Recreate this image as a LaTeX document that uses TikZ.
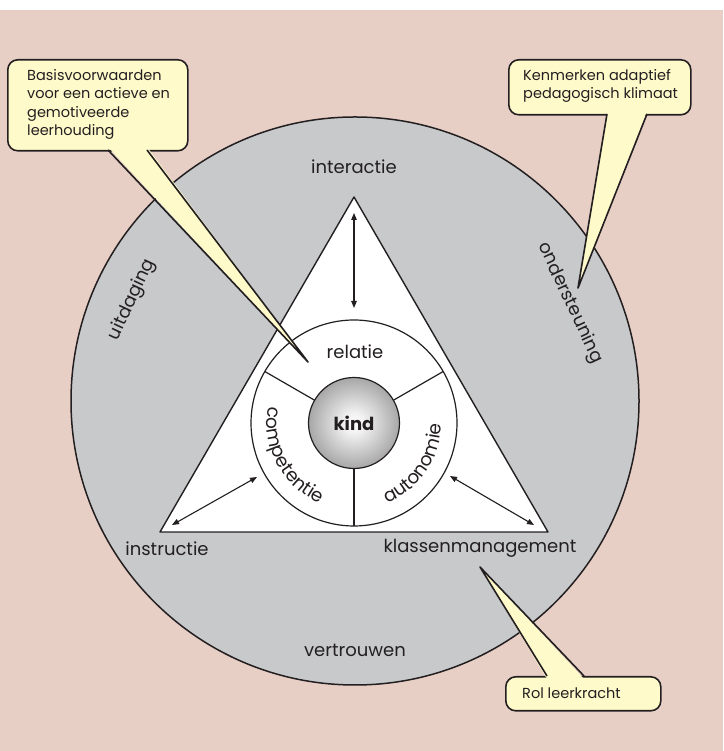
\documentclass[tikz,border=0pt]{standalone}
\usepackage{fontspec}
\setmainfont{Poppins}
\usetikzlibrary{arrows.meta,decorations.text}
\definecolor{bgpink}{RGB}{232,207,198}
\definecolor{circgray}{RGB}{200,201,203}
\definecolor{callyellow}{RGB}{255,250,202}
\definecolor{ink}{RGB}{35,31,32}
\pgfdeclareradialshading{kindshade}{\pgfpoint{0bp}{0bp}}{color(0bp)=(white); color(6bp)=(white!94!black); color(50bp)=(black!72); color(100bp)=(black!72)}
\begin{document}
\begin{tikzpicture}[x=1pt,y=1pt,line join=round,
  lab/.style={font=\fontsize{18}{18}\selectfont, text=ink, inner sep=0pt},
  calltext/.style={font=\fontsize{14.5}{18.5}\selectfont, text=ink, align=left, inner sep=0pt, anchor=base west},
  callbox/.style={fill=callyellow, draw=ink, line width=1.6pt, rounded corners=10pt, anchor=north west, inner sep=0pt},
  tailfill/.style={fill=callyellow},
  tailline/.style={draw=ink, line width=1.6pt},
  dbl/.style={draw=ink, line width=1.1pt, {Triangle[length=7pt,width=5.5pt]}-{Triangle[length=7pt,width=5.5pt]}},
  divider/.style={draw=ink, line width=1.2pt}
]
\useasboundingbox (0,0) rectangle (723,751);
\fill[white] (0,0) rectangle (723,751);
\fill[bgpink] (0,0) rectangle (723,741);
% outer circle
\node[circle, minimum size=568pt, fill=circgray, draw=ink, line width=1.5pt, inner sep=0pt] (outer) at (355,350) {};
% triangle
\coordinate (apex) at (354,554);
\coordinate (bl) at (160,219);
\coordinate (br) at (548,219);
\draw[fill=white, draw=ink, line width=1.4pt] (apex) -- (bl) -- (br) -- cycle;
% ring
\node[circle, minimum size=206pt, fill=white, draw=ink, line width=1.2pt, inner sep=0pt] (ring) at (354,328) {};
\foreach \a in {30,150,270}
  \draw[divider] ([shift={(354,328)}]\a:45) -- ([shift={(354,328)}]\a:103);
% kind
\node[circle, minimum size=91pt, shading=kindshade, draw=ink, line width=1.2pt, inner sep=0pt,
      font=\fontsize{18}{18}\selectfont\bfseries, text=ink] (kind) at (354,328) {kind};
% arrows
\coordinate (v1) at (354,538); \coordinate (v2) at (354,443);
\coordinate (l1) at (172,226); \coordinate (l2) at (257,274);
\coordinate (r1) at (450,275); \coordinate (r2) at (534,226);
\draw[dbl] (v1) -- (v2);
\draw[dbl] (l1) -- (l2);
\draw[dbl] (r1) -- (r2);
% labels
\node[lab] (interactie) at (354,584) {interactie};
\node[lab] (instructie) at (167,202) {instructie};
\node[lab] (klassen) at (480,203) {klassenmanagement};
\node[lab] (vertrouwen) at (355,101) {vertrouwen};
\node[lab] (relatie) at (355,399) {relatie};
\node[lab, rotate=65] (uitdaging) at (132,451) {uitdaging};
\node[lab, rotate=-65] (ondersteuning) at (570,448) {ondersteuning};
% curved labels
\path[decorate, decoration={text along path, text={|\fontsize{18.5}{18.5}\selectfont\color{ink}|competentie}, text align=center}]
  ([shift={(354,328)}]150:87) arc[start angle=150, end angle=266, radius=87];
\path[decorate, decoration={text along path, text={|\fontsize{18.5}{18.5}\selectfont\color{ink}|autonomie}, text align=center}]
  ([shift={(354,328)}]266:87) arc[start angle=266, end angle=386, radius=87];
% callout 1
\node[callbox, minimum width=180pt, minimum height=91pt] (c1) at (7,692) {};
\fill[tailfill] (108,604) -- (308,389) -- (147,604) -- cycle;
\draw[tailline] (108,601) -- (308,389) -- (147,601);
\node[calltext] (t1) at (27,615) {Basisvoorwaarden\\voor een actieve en\\gemotiveerde\\leerhouding};
% callout 2
\node[callbox, minimum width=182pt, minimum height=55pt] (c2) at (508,692) {};
\fill[tailfill] (607,640) -- (578,463) -- (647,640) -- cycle;
\draw[tailline] (607,637) -- (578,463) -- (647,637);
\node[calltext] (t2) at (523,652) {Kenmerken adaptief\\pedagogisch klimaat};
% callout 3
\node[callbox, minimum width=155pt, minimum height=34pt] (c3) at (505,75) {};
\fill[tailfill] (547,72) -- (480,184) -- (584,72) -- cycle;
\draw[tailline] (547,75) -- (480,184) -- (584,75);
\node[calltext] (t3) at (522,52) {Rol leerkracht};
\end{tikzpicture}
\end{document}
